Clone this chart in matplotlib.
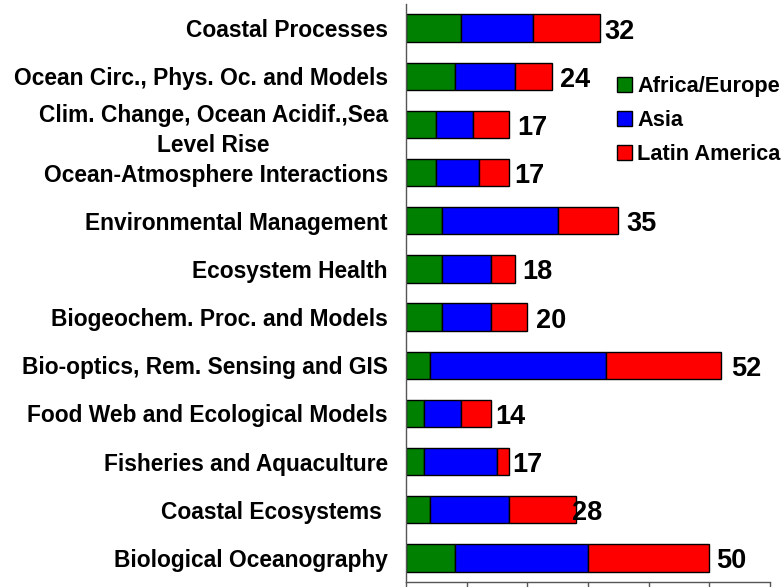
import numpy as np
import matplotlib
matplotlib.use("Agg")
from matplotlib import pyplot as plt
from matplotlib.patches import Patch

plt.rcParams['font.family'] = ['Liberation Sans', 'DejaVu Sans']
plt.rcParams['font.weight'] = 'bold'

# research areas, listed from top to bottom
categories = [
    'Coastal Processes',
    'Ocean Circ., Phys. Oc. and Models',
    'Clim. Change, Ocean Acidif.,Sea\nLevel Rise',
    'Ocean-Atmosphere Interactions',
    'Environmental Management',
    'Ecosystem Health',
    'Biogeochem. Proc. and Models',
    'Bio-optics, Rem. Sensing and GIS',
    'Food Web and Ecological Models',
    'Fisheries and Aquaculture',
    'Coastal Ecosystems ',
    'Biological Oceanography',
]

regions = ['Africa/Europe', 'Asia', 'Latin America']
africa_europe = [9, 8, 5, 5, 6, 6, 6, 4, 3, 3, 4, 8]
asia = [12, 10, 6, 7, 19, 8, 8, 29, 6, 12, 13, 22]
latin_america = [11, 6, 6, 5, 10, 4, 6, 19, 5, 2, 11, 20]

colors = ['#008000', '#0000ff', '#ff0000']

# horizontal nudge of each total label, in points
label_nudge = [3, 6, 6, 4, 6, 5, 6, 7, 3, 2, -3, 5]

series = [np.array(africa_europe), np.array(asia), np.array(latin_america)]
totals = series[0] + series[1] + series[2]

W, H = 782, 587
fig = plt.figure(figsize=(W / 100, H / 100), dpi=100)
ax = fig.add_axes([406 / W, 1 - 582 / H, 364 / W, 578 / H])

y = np.arange(len(categories))
left = np.zeros(len(categories))
for vals, col in zip(series, colors):
    ax.barh(y, vals, left=left, height=0.57, color=col,
            edgecolor='black', linewidth=1.0)
    left = left + vals

for yi, tot, dx in zip(y, totals, label_nudge):
    ax.annotate(str(tot), (tot, yi), xytext=(dx, -2.5), textcoords='offset points',
                ha='left', va='center', fontsize=19.5, fontweight='bold')

ax.set_xlim(0, 60)
ax.set_ylim(len(categories) - 0.5, -0.5)
ax.set_xticks(np.arange(0, 61, 10))
ax.set_yticks(y)
ax.set_yticklabels(categories, fontsize=16.4, fontweight='bold',
                   multialignment='center', linespacing=1.4)
ax.tick_params(axis='y', length=0, pad=13)
ax.tick_params(axis='x', length=5, width=1, color='#555555', labelbottom=False)

for side in ('top', 'right'):
    ax.spines[side].set_visible(False)
for side in ('left', 'bottom'):
    ax.spines[side].set_color('#555555')
    ax.spines[side].set_linewidth(1)

handles = [Patch(facecolor=c, edgecolor='black', linewidth=1) for c in colors]
fig.legend(handles, regions, loc='upper left',
           bbox_to_anchor=(617 / W, 1 - 76 / H), frameon=False,
           prop={'size': 15.7, 'weight': 'bold'}, handlelength=0.68,
           handleheight=0.68, handletextpad=0.25, labelspacing=0.6,
           borderpad=0, borderaxespad=0)

fig.savefig('out.png', dpi=100)
